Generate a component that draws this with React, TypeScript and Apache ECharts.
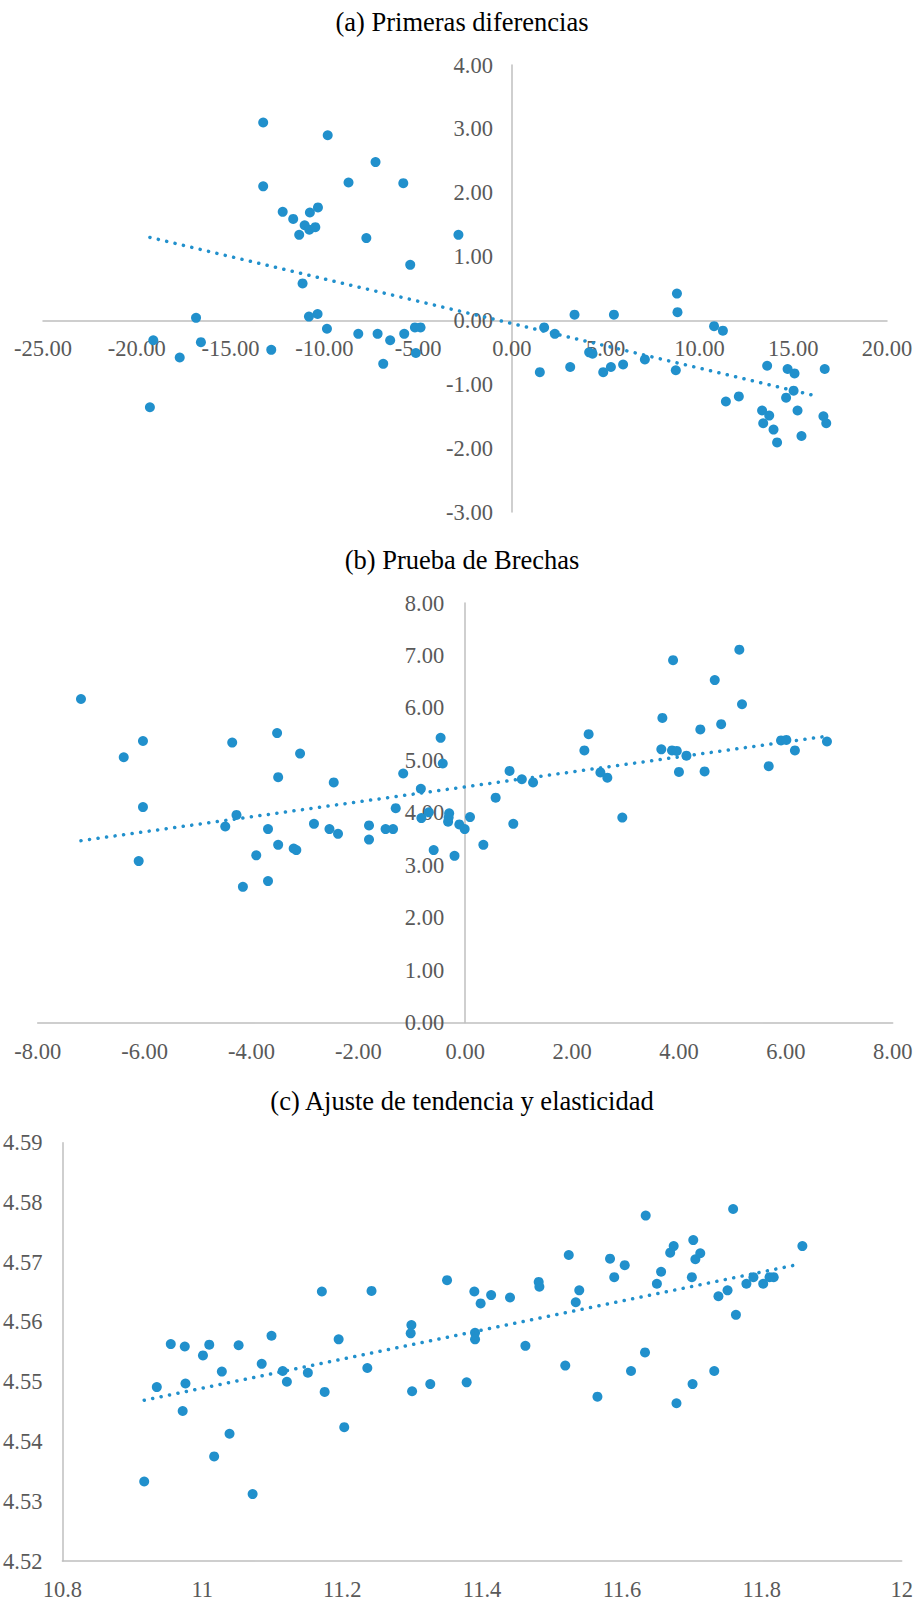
import React, { useEffect, useRef } from "react";
import * as echarts from "echarts";

// ---------- Titles ----------
const titles = [
  "(a) Primeras diferencias",
  "(b) Prueba de Brechas",
  "(c) Ajuste de tendencia y elasticidad",
];

// ---------- Panel (a) Primeras diferencias ----------
const aX = [
  -13.26, -9.82, -7.27, -13.26, -8.71, -5.79, -12.22, -11.66, -10.77, -10.34,
  -11.05, -10.8, -10.48, -11.34, -7.76, -2.85, -5.42,
  -11.16, -16.84, -10.82, -10.36, -19.12, -16.58, -17.71, -12.83, -9.86,
  -8.19, -7.16, -6.49, -6.86, -5.74, -5.17, -4.87, -5.12, -19.3,
  8.8, 8.83, 3.34, 5.44, 1.72, 2.29, 10.78, 11.25, 1.49, 3.11,
  4.12, 4.3, 4.87, 5.28, 5.93, 7.09, 8.74, 13.61, 14.7, 15.07,
  16.68, 15.02, 14.62, 12.1, 11.41, 13.34, 13.72, 15.23, 13.4, 13.95,
  14.14, 15.44, 16.61, 16.76,
];
const aY = [
  3.1, 2.9, 2.48, 2.1, 2.16, 2.15, 1.7, 1.59, 1.69, 1.77,
  1.49, 1.42, 1.46, 1.34, 1.29, 1.34, 0.87,
  0.58, 0.04, 0.06, 0.1, -0.31, -0.34, -0.58, -0.46, -0.13,
  -0.21, -0.21, -0.31, -0.68, -0.21, -0.11, -0.11, -0.51, -1.36,
  0.42, 0.13, 0.09, 0.09, -0.11, -0.21, -0.09, -0.16, -0.81, -0.73,
  -0.5, -0.52, -0.81, -0.73, -0.69, -0.61, -0.78, -0.71, -0.76, -0.83,
  -0.76, -1.1, -1.21, -1.19, -1.27, -1.41, -1.49, -1.41, -1.61, -1.71,
  -1.91, -1.81, -1.5, -1.61,
];
const aTrendX = [-19.3, 16.33];
const aTrendY = [1.3, -1.19];
const aXTicks = { min: -25, max: 20, step: 5 };
const aYTicks = { min: -3, max: 4, step: 1 };

// ---------- Panel (b) Prueba de Brechas ----------
const bX = [
  -7.19, -6.39, -6.03, -4.36, -3.52, -3.09, -3.5, -2.46, -1.16, -0.46,
  -0.42, -0.83, -6.03,
  -6.11, -4.49, -4.28, -3.69, -3.91, -3.5, -3.21, -3.16, -4.16, -3.69,
  -2.83, -2.54, -2.38, -1.8, -1.8, -1.49, -1.35, -1.3, -0.82, -0.68,
  -0.3, -0.32, -0.31, -0.11, -0.59, -0.2,
  -0.01, 0.09, 0.34, 0.57, 0.9, 2.94,
  3.89, 5.13, 4.67, 5.18, 3.69, 4.79, 4.4, 2.31, 2.23, 3.67,
  3.87, 3.96, 4.14, 4.0, 4.48, 5.68, 5.91, 6.01, 6.17, 6.77,
  0.83, 1.06, 1.27, 2.53, 2.66,
];
const bY = [
  6.17, 5.06, 5.37, 5.34, 5.52, 5.13, 4.68, 4.58, 4.75, 5.43,
  4.94, 4.46, 4.11,
  3.08, 3.74, 3.96, 3.69, 3.19, 3.39, 3.32, 3.29, 2.59, 2.7,
  3.79, 3.69, 3.6, 3.76, 3.49, 3.69, 3.69, 4.09, 3.9, 4.01,
  3.99, 3.83, 3.91, 3.78, 3.29, 3.18,
  3.69, 3.92, 3.39, 4.29, 3.79, 3.91,
  6.91, 7.11, 6.53, 6.07, 5.81, 5.69, 5.59, 5.5, 5.19, 5.21,
  5.19, 5.18, 5.09, 4.78, 4.79, 4.89, 5.38, 5.39, 5.19, 5.36,
  4.8, 4.64, 4.58, 4.77, 4.67,
];
const bTrendX = [-7.19, 6.69];
const bTrendY = [3.47, 5.45];
const bXTicks = { min: -8, max: 8, step: 2 };
const bYTicks = { min: 0, max: 8, step: 1 };

// ---------- Panel (c) Ajuste de tendencia y elasticidad ----------
const cX = [
  11.35, 11.171, 11.242, 10.955, 10.975, 11.01, 11.052, 11.099, 11.195, 11.299,
  11.298, 11.001, 10.935, 10.976, 10.972, 10.917, 11.028, 11.017, 11.039, 11.072,
  11.085, 11.115, 11.121, 11.151, 11.175, 11.203, 11.236, 11.3, 11.326,
  11.634, 11.759, 11.524, 11.583, 11.604, 11.589, 11.389, 11.398, 11.413, 11.44,
  11.481, 11.482, 11.539, 11.534, 11.656, 11.65, 11.669, 11.674, 11.702, 11.705,
  11.712, 11.7, 11.738, 11.751, 11.763, 11.778, 11.788, 11.802, 11.811, 11.817,
  11.858, 11.39, 11.39, 11.462,
  11.378, 11.519, 11.565, 11.613, 11.633, 11.678, 11.701, 11.732,
];
const cY = [
  4.567, 4.5651, 4.5652, 4.5563, 4.5559, 4.5562, 4.5561, 4.5577, 4.5571, 4.5595,
  4.5581, 4.5544, 4.5491, 4.5497, 4.5451, 4.5333, 4.5517, 4.5375, 4.5413, 4.5312,
  4.553, 4.5518, 4.55, 4.5515, 4.5483, 4.5424, 4.5523, 4.5484, 4.5496,
  4.5778, 4.5789, 4.5712, 4.5706, 4.5695, 4.5675, 4.5651, 4.5631, 4.5645, 4.5641,
  4.5667, 4.5659, 4.5653, 4.5633, 4.5684, 4.5664, 4.5716, 4.5727, 4.5737, 4.5705,
  4.5715, 4.5675, 4.5643, 4.5653, 4.5612, 4.5664, 4.5675, 4.5664, 4.5675, 4.5675,
  4.5727, 4.5582, 4.5571, 4.556,
  4.5499, 4.5527, 4.5475, 4.5518, 4.5549, 4.5464, 4.5496, 4.5518,
];
const cTrendX = [10.917, 11.855];
const cTrendY = [4.5469, 4.5697];
const cXTicks = { min: 10.8, max: 12, step: 0.2 };
const cYTicks = { min: 4.52, max: 4.59, step: 0.01 };

// ---------- Styles ----------
const FONT = '"Times New Roman", "Liberation Serif", serif';
const BLUE = "#2190cc";
const AXIS_COLOR = "#bfbfbf";
const LABEL_COLOR = "#595959";
const LABEL_SIZE = 22.5;
const TITLE_SIZE = 26.5;

const GRIDS = [
  { left: 43, top: 65, width: 844, height: 447 },
  { left: 37.7, top: 603, width: 855, height: 419.7 },
  { left: 62.3, top: 1142.7, width: 839.4, height: 418.3 },
];

const pairs = (xs: number[], ys: number[]) => xs.map((x, i) => [x, ys[i]]);

// offset (in px) that moves an axis from the grid edge onto the other axis's zero
const xAxisZeroOffset = (g: typeof GRIDS[0], yt: { min: number; max: number }) =>
  yt.min >= 0 ? 0 : -(g.height * (0 - yt.min)) / (yt.max - yt.min);
const yAxisZeroOffset = (g: typeof GRIDS[0], xt: { min: number; max: number }) =>
  xt.min >= 0 ? 0 : -(g.width * (0 - xt.min)) / (xt.max - xt.min);

export default function App() {
  const ref = useRef<HTMLDivElement>(null);

  useEffect(() => {
    if (!ref.current) return;
    const chart = echarts.init(ref.current, null, { renderer: "svg" });

    const fmt2 = (v: number) => v.toFixed(2);
    const fmtC = (v: number) => String(parseFloat(v.toFixed(1)));

    const axisBase = (offset: number) => ({
      type: "value",
      offset,
      axisLine: { show: true, onZero: false, lineStyle: { color: AXIS_COLOR, width: 1.5 } },
      axisTick: { show: false },
      splitLine: { show: false },
    });
    const label = (margin: number, formatter: (v: number) => string) => ({
      margin,
      formatter,
      color: LABEL_COLOR,
      fontSize: LABEL_SIZE,
      fontFamily: FONT,
      showMinLabel: true,
      showMaxLabel: true,
    });

    const scatter = (i: number, xs: number[], ys: number[]) => ({
      type: "scatter",
      xAxisIndex: i,
      yAxisIndex: i,
      data: pairs(xs, ys),
      symbol: "circle",
      symbolSize: 10,
      itemStyle: { color: BLUE, opacity: 1 },
      z: 2,
    });
    const trend = (i: number, xs: number[], ys: number[]) => ({
      type: "line",
      xAxisIndex: i,
      yAxisIndex: i,
      data: pairs(xs, ys),
      symbol: "none",
      silent: true,
      lineStyle: { color: BLUE, width: 3.5, type: [0.1, 8.5], cap: "round", opacity: 1 },
      z: 3,
    });

    const titleY = [21.5, 560, 1100.5];

    chart.setOption({
      animation: false,
      backgroundColor: "#ffffff",
      graphic: titles.map((t, i) => ({
        type: "text",
        x: 462,
        y: titleY[i],
        style: {
          text: t,
          align: "center",
          verticalAlign: "middle",
          fontSize: TITLE_SIZE,
          fontFamily: FONT,
          fill: "#000000",
        },
      })),
      grid: GRIDS,
      xAxis: [
        {
          ...axisBase(xAxisZeroOffset(GRIDS[0], aYTicks)),
          gridIndex: 0,
          min: aXTicks.min,
          max: aXTicks.max,
          interval: aXTicks.step,
          axisLabel: label(17, fmt2),
        },
        {
          ...axisBase(xAxisZeroOffset(GRIDS[1], bYTicks)),
          gridIndex: 1,
          min: bXTicks.min,
          max: bXTicks.max,
          interval: bXTicks.step,
          axisLabel: label(17, fmt2),
        },
        {
          ...axisBase(0),
          gridIndex: 2,
          min: cXTicks.min,
          max: cXTicks.max,
          interval: cXTicks.step,
          axisLabel: label(17, fmtC),
        },
      ],
      yAxis: [
        {
          ...axisBase(yAxisZeroOffset(GRIDS[0], aXTicks)),
          gridIndex: 0,
          min: aYTicks.min,
          max: aYTicks.max,
          interval: aYTicks.step,
          axisLabel: label(19, fmt2),
        },
        {
          ...axisBase(yAxisZeroOffset(GRIDS[1], bXTicks)),
          gridIndex: 1,
          min: bYTicks.min,
          max: bYTicks.max,
          interval: bYTicks.step,
          axisLabel: label(21, fmt2),
        },
        {
          ...axisBase(0),
          gridIndex: 2,
          min: cYTicks.min,
          max: cYTicks.max,
          interval: cYTicks.step,
          axisLabel: label(20, fmt2),
        },
      ],
      series: [
        scatter(0, aX, aY),
        trend(0, aTrendX, aTrendY),
        scatter(1, bX, bY),
        trend(1, bTrendX, bTrendY),
        scatter(2, cX, cY),
        trend(2, cTrendX, cTrendY),
      ],
    });

    return () => chart.dispose();
  }, []);

  return (
    <div
      ref={ref}
      style={{ position: "absolute", left: 0, top: 0, width: 920, height: 1605 }}
    />
  );
}
